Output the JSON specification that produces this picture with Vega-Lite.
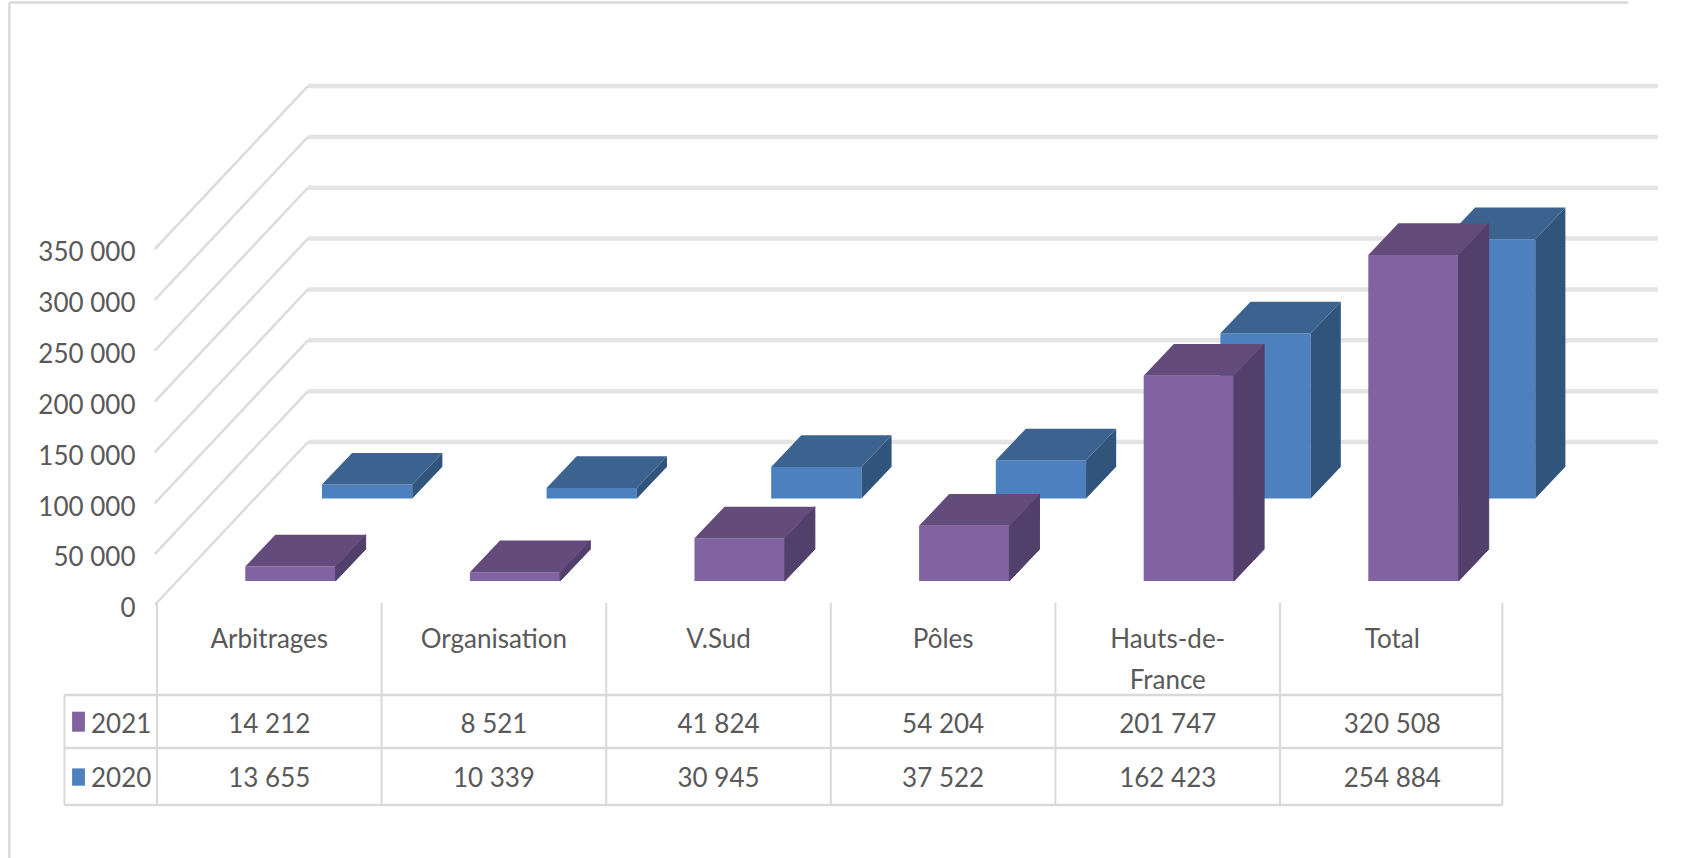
{
"$schema":"https://vega.github.io/schema/vega-lite/v6.json",
"width":1685,"height":858,"padding":0,"autosize":{"type":"none"},"background":"white",
"config":{"view":{"stroke":null},"text":{"font":"Lato","fontSize":26,"color":"#595959"}},
"datasets":{
"rows":[
{"category":"Arbitrages","series":"2021","value":14212},{"category":"Organisation","series":"2021","value":8521},{"category":"V.Sud","series":"2021","value":41824},{"category":"Pôles","series":"2021","value":54204},{"category":"Hauts-de-France","series":"2021","value":201747},{"category":"Total","series":"2021","value":320508},
{"category":"Arbitrages","series":"2020","value":13655},{"category":"Organisation","series":"2020","value":10339},{"category":"V.Sud","series":"2020","value":30945},{"category":"Pôles","series":"2020","value":37522},{"category":"Hauts-de-France","series":"2020","value":162423},{"category":"Total","series":"2020","value":254884}],
"ticks":[{"v":0},{"v":50000},{"v":100000},{"v":150000},{"v":200000},{"v":250000},{"v":300000},{"v":350000}],
"frame":[{"part":"frame"}]},
"data":{"name":"rows"},
"transform":[
{"calculate":"indexof(['Arbitrages','Organisation','V.Sud','Pôles','Hauts-de-France','Total'],datum.category)","as":"idx"},
{"calculate":"datum.idx+0.393+(datum.series==='2020'?0.3415:0)","as":"xl"},
{"calculate":"datum.xl+0.402","as":"xr"},
{"calculate":"datum.series==='2020'?81800:800","as":"base"},
{"calculate":"datum.base+datum.value","as":"top"},
{"calculate":"replace(format(datum.value,','),',',' ')","as":"label"}
],
"encoding":{
"x":{"field":"px","type":"quantitative","scale":{"domain":[-0.699,6.803],"range":[0,1685],"nice":false,"zero":false},"axis":null},
"y":{"field":"py","type":"quantitative","scale":{"domain":[-271681,571976],"range":[858,0],"nice":false,"zero":false},
"axis":{"values":[0,50000,100000,150000,200000,250000,300000,350000],"orient":"left","offset":-135,"title":null,"domain":false,"ticks":false,"grid":false,"labelPadding":0,"labelOffset":27,"labelFont":"Lato","labelFontSize":26,"labelColor":"#595959","labelExpr":"replace(format(datum.value,','),',',' ')"}}
},
"layer":[
{"data":{"name":"ticks"},"transform":[{"calculate":"datum.v+137365","as":"py"},{"calculate":"0.672","as":"px"},{"calculate":"6.683","as":"px2"}],"mark":{"type":"rule","color":"#E4E4E4","strokeWidth":4.5},"encoding":{"x2":{"field":"px2"}}},
{"data":{"name":"ticks"},"transform":[{"calculate":"[0,1]","as":"k"},{"flatten":["k"]},{"calculate":"datum.k?0.672:-0.01","as":"px"},{"calculate":"datum.k?datum.v+137365:datum.v-22900","as":"py"}],"mark":{"type":"line","color":"#DCDCDC","strokeWidth":2.5},"encoding":{"detail":{"field":"v"}}},

{"data":{"name":"frame"},"transform":[{"calculate":"-0.657","as":"px"},{"calculate":"569518","as":"py"},{"calculate":"-271681","as":"py2"}],"mark":{"type":"rule","color":"#D9D9D9","strokeWidth":2.5},"encoding":{"y2":{"field":"py2"}}},
{"data":{"name":"frame"},"transform":[{"calculate":"-0.657","as":"px"},{"calculate":"6.55","as":"px2"},{"calculate":"569518","as":"py"}],"mark":{"type":"rule","color":"#D9D9D9","strokeWidth":2.5},"encoding":{"x2":{"field":"px2"}}},

{"transform":[{"filter":"datum.series==='2021'"},{"calculate":"datum.idx","as":"px"},{"calculate":"-20649","as":"py"},{"calculate":"-219567","as":"py2"}],"mark":{"type":"rule","color":"#D9D9D9","strokeWidth":2},"encoding":{"y2":{"field":"py2"}}},
{"data":{"name":"frame"},"transform":[{"calculate":"5.99","as":"px"},{"calculate":"-20649","as":"py"},{"calculate":"-219567","as":"py2"}],"mark":{"type":"rule","color":"#D9D9D9","strokeWidth":2},"encoding":{"y2":{"field":"py2"}}},
{"data":{"name":"frame"},"transform":[{"calculate":"-0.412","as":"px"},{"calculate":"-111406","as":"py"},{"calculate":"-219567","as":"py2"}],"mark":{"type":"rule","color":"#D9D9D9","strokeWidth":2},"encoding":{"y2":{"field":"py2"}}},
{"data":{"name":"frame"},"transform":[{"calculate":"[-111406,-163520,-219567]","as":"py"},{"flatten":["py"]},{"calculate":"-0.412","as":"px"},{"calculate":"5.99","as":"px2"}],"mark":{"type":"rule","color":"#D9D9D9","strokeWidth":2.5},"encoding":{"x2":{"field":"px2"}}},

{"transform":[{"filter":"datum.series==='2021'"},{"calculate":"datum.idx+0.5","as":"px"},{"calculate":"-65192","as":"py"},{"calculate":"replace(datum.category,'-de-','-de-@')","as":"cat"}],"mark":{"type":"text","align":"center","baseline":"alphabetic","lineBreak":"@","lineHeight":41},"encoding":{"text":{"field":"cat"}}},
{"transform":[{"calculate":"datum.idx+0.5","as":"px"},{"calculate":"datum.series==='2021'?-140500:-193800","as":"py"}],"mark":{"type":"text","align":"center","baseline":"middle"},"encoding":{"text":{"field":"label"}}},
{"transform":[{"filter":"datum.category==='Arbitrages'"},{"calculate":"-0.294","as":"px"},{"calculate":"datum.series==='2021'?-140500:-193800","as":"py"}],"mark":{"type":"text","align":"left","baseline":"middle"},"encoding":{"text":{"field":"series"}}},
{"transform":[{"filter":"datum.category==='Arbitrages'"},{"calculate":"-0.378","as":"px"},{"calculate":"-0.321","as":"px2"},{"calculate":"datum.series==='2021'?-127827:-183579","as":"py"},{"calculate":"datum.series==='2021'?-147493:-200590","as":"py2"}],"mark":{"type":"rect"},"encoding":{"x2":{"field":"px2"},"y2":{"field":"py2"},"color":{"field":"series","type":"nominal","scale":{"domain":["2021","2020"],"range":["#8063A0","#4D80BE"]},"legend":null}}},

{"transform":[{"filter":"datum.series==='2020'"},{"calculate":"datum.xl","as":"px"},{"calculate":"datum.base","as":"py"}],"mark":{"type":"rect","color":"#4D80BE"},"encoding":{"x2":{"field":"xr"},"y2":{"field":"top"}}},
{"transform":[{"filter":"datum.series==='2020'"},{"calculate":"[0,1]","as":"k"},{"flatten":["k"]},{"calculate":"datum.xr+datum.k*0.134","as":"px"},{"calculate":"datum.base+datum.k*31170","as":"py"},{"calculate":"datum.top+datum.k*31170","as":"py2"}],"mark":{"type":"area","color":"#30547C","orient":"vertical"},"encoding":{"y2":{"field":"py2"},"detail":{"field":"category"}}},
{"transform":[{"filter":"datum.series==='2020'"},{"calculate":"[0,1,2,3]","as":"k"},{"flatten":["k"]},{"calculate":"[datum.xl,datum.xl+0.134,datum.xr,datum.xr+0.134][datum.k]","as":"px"},{"calculate":"datum.k===3?datum.top+31170:datum.top","as":"py"},{"calculate":"datum.k===0?datum.top:datum.top+31170","as":"py2"}],"mark":{"type":"area","color":"#3C6390","orient":"vertical"},"encoding":{"y2":{"field":"py2"},"detail":{"field":"category"}}},

{"transform":[{"filter":"datum.series==='2021'"},{"calculate":"datum.xl","as":"px"},{"calculate":"datum.base","as":"py"}],"mark":{"type":"rect","color":"#8063A0"},"encoding":{"x2":{"field":"xr"},"y2":{"field":"top"}}},
{"transform":[{"filter":"datum.series==='2021'"},{"calculate":"[0,1]","as":"k"},{"flatten":["k"]},{"calculate":"datum.xr+datum.k*0.134","as":"px"},{"calculate":"datum.base+datum.k*31170","as":"py"},{"calculate":"datum.top+datum.k*31170","as":"py2"}],"mark":{"type":"area","color":"#533F6B","orient":"vertical","stroke":"#533F6B","strokeWidth":1},"encoding":{"y2":{"field":"py2"},"detail":{"field":"category"}}},
{"transform":[{"filter":"datum.series==='2021'"},{"calculate":"[0,1,2,3]","as":"k"},{"flatten":["k"]},{"calculate":"[datum.xl,datum.xl+0.134,datum.xr,datum.xr+0.134][datum.k]","as":"px"},{"calculate":"datum.k===3?datum.top+31170:datum.top","as":"py"},{"calculate":"datum.k===0?datum.top:datum.top+31170","as":"py2"}],"mark":{"type":"area","color":"#634B7C","orient":"vertical"},"encoding":{"y2":{"field":"py2"},"detail":{"field":"category"}}}
]
}
